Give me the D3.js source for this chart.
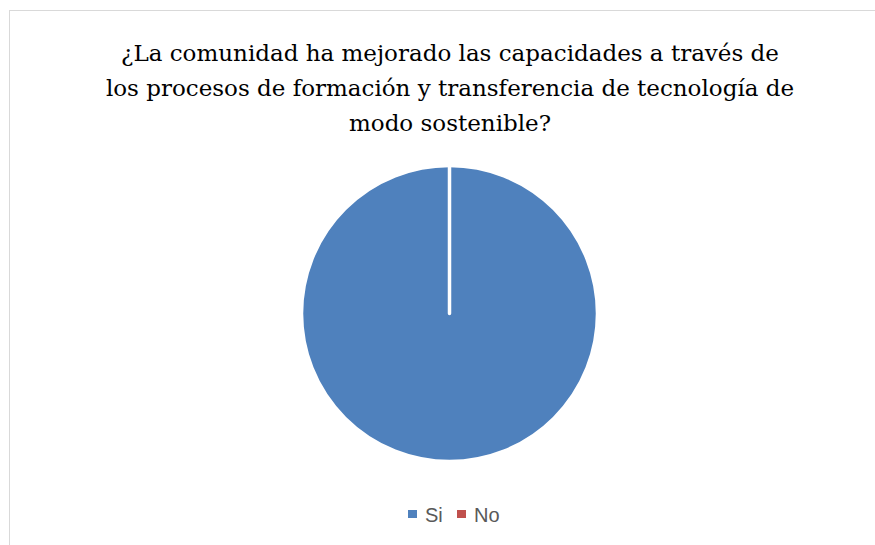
<!DOCTYPE html>
<html><head><meta charset="utf-8">
<script src="https://cdn.jsdelivr.net/npm/d3@7/dist/d3.min.js"></script>
<style>body{margin:0;background:#fff}svg{display:block}
.ttl{font-family:"DejaVu Serif",serif}
.leg{font-family:"Liberation Sans",Arial,sans-serif}</style>
</head><body>
<script>
const categories = ["Si", "No"];
const values = [100, 0];
const colors = ["#4F81BD", "#C0504D"];
const titleLines = ["¿La comunidad ha mejorado las capacidades a través de",
  "los procesos de formación y transferencia de tecnología de",
  "modo sostenible?"];

const W = 875, H = 545;
const svg = d3.select("body").append("svg").attr("width", W).attr("height", H);
svg.append("rect").attr("x", 9.5).attr("y", 10.5).attr("width", W).attr("height", H)
  .attr("fill", "#fff").attr("stroke", "#D9D9D9").attr("stroke-width", 1);

svg.append("g").selectAll("text").data(titleLines).join("text")
  .attr("class", "ttl")
  .attr("x", 450).attr("y", (d, i) => 61 + i * 35)
  .attr("text-anchor", "middle")
  .attr("font-size", 23).attr("fill", "#000").text(d => d);

const cx = 449.5, cy = 313.5, r = 148;
const pie = d3.pie().sort(null).value(d => d)(values);
const arc = d3.arc().innerRadius(0).outerRadius(r);
svg.append("g").attr("transform", `translate(${cx},${cy})`)
  .selectAll("path").data(pie).join("path")
  .attr("d", arc).attr("fill", (d, i) => colors[i])
  .attr("stroke", "#fff").attr("stroke-width", 3.5).attr("stroke-linejoin", "round").attr("stroke-linecap", "round");

const legX = [408, 457];
const lg = svg.append("g").selectAll("g").data(categories).join("g")
  .attr("transform", (d, i) => `translate(${legX[i]},510)`);
lg.append("rect").attr("width", 9).attr("height", 8).attr("fill", (d, i) => colors[i]);
lg.append("text").attr("class", "leg").attr("x", 17).attr("y", 12)
  .attr("font-size", 20).attr("fill", "#595959").text(d => d);
</script>
</body></html>
